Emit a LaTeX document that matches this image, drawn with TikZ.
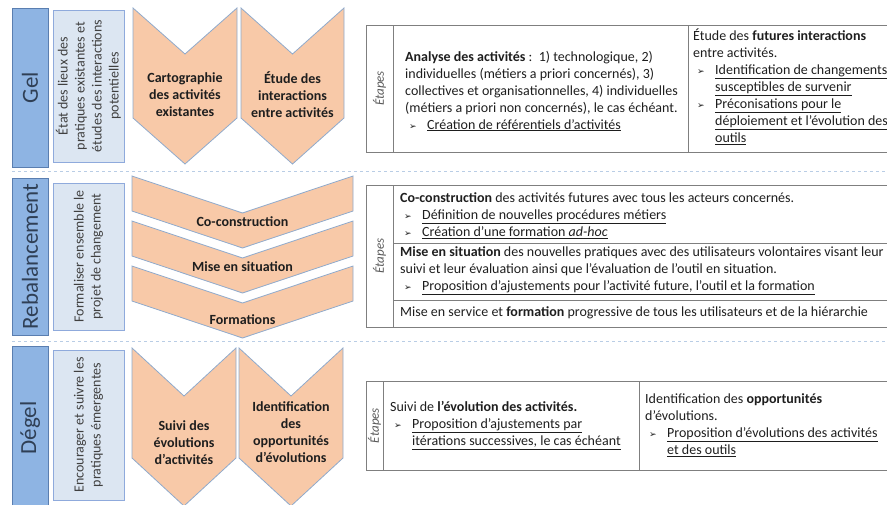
\documentclass[tikz,border=0pt]{standalone}
\usepackage{fontspec}
\setmainfont{Carlito}
\newfontfamily\symbfont{DejaVu Sans}
\usetikzlibrary{calc}

\definecolor{phasefill}{HTML}{8EB4E3}
\definecolor{phasedraw}{HTML}{5A7EB0}
\definecolor{phasetext}{HTML}{2F3F55}
\definecolor{butfill}{HTML}{DCE6F2}
\definecolor{butdraw}{HTML}{8FAADC}
\definecolor{chevfill}{HTML}{F8C9A8}
\definecolor{chevdraw}{HTML}{8FAACC}
\definecolor{texte}{HTML}{1E1E1E}
\definecolor{grille}{HTML}{7F7F7F}
\definecolor{sep}{HTML}{B9CDE5}

\newcommand\puce{\makebox[22pt][l]{\hspace{4pt}{\symbfont\fontsize{9}{9}\selectfont ➢}}}
\newcommand\suite{\hspace*{22pt}}
\newcommand\souligne[1]{\underline{#1}}
\newcommand\chevron[5]{\draw[chev] (#1,#3) -- ({(#1+#2)/2},{#3+#4}) -- (#2,#3) -- (#2,{#3+#5}) -- ({(#1+#2)/2},{#3+#4+#5}) -- (#1,{#3+#5}) -- cycle;}

\tikzset{
  phase/.style={draw=phasedraw, fill=phasefill, line width=1pt},
  but/.style={draw=butdraw, fill=butfill, line width=0.7pt},
  chev/.style={draw=chevdraw, fill=chevfill, line width=0.8pt},
  grille/.style={draw=grille, line width=0.8pt},
  sep/.style={draw=sep, dashed, line width=0.8pt},
  titre/.style={rotate=90, font=\fontsize{23}{26}\selectfont, text=phasetext},
  objectif/.style={rotate=90, align=center, font=\fontsize{14}{17}\selectfont, text=black!75},
  etape/.style={align=center, font=\bfseries\fontsize{14}{17}\selectfont, text=texte},
  etapes/.style={rotate=90, font=\itshape\fontsize{13}{15}\selectfont, text=black!65},
  cellule/.style={align=left, font=\fontsize{14}{17}\selectfont, text=texte, inner sep=0pt},
}

\begin{document}
\begin{tikzpicture}[x=1pt,y=-1pt]
\useasboundingbox (0,0) rectangle (887,504);
\clip (0,0) rectangle (887,504);

\draw[sep] (12,171) -- (887,171);
\draw[sep] (12,341) -- (887,341);

\draw[phase] (12,8) rectangle (48,167);
\node[titre] (gel) at (30,87.5) {Gel};
\draw[but] (53,10) rectangle (124,162);
\node[objectif] (etatlieux) at (88.5,86) {État des lieux des\\pratiques existantes et\\études des interactions\\potentielles};
\chevron{133}{237}{8}{46}{110}
\chevron{241}{344}{8}{46}{110}
\node[etape] (carto) at (185,95) {Cartographie\\des activités\\existantes};
\node[etape] (etude) at (292.5,95) {Étude des\\interactions\\entre activités};

\draw[grille] (366,25) rectangle (900,152);
\draw[grille] (393,25) -- (393,152);
\draw[grille] (688,25) -- (688,152);
\node[etapes] (etapesgel) at (379.5,88.5) {Étapes};
\node[cellule, anchor=west] (analyse) at (405,91) {\textbf{Analyse des activités} :\ \ 1) technologique, 2)\\individuelles (métiers a priori concernés), 3)\\collectives et organisationnelles, 4) individuelles\\(métiers a priori non concernés), le cas échéant.\\\puce\souligne{Création de référentiels d’activités}};
\node[cellule, anchor=north west] (futures) at (693,29) {Étude des \textbf{futures interactions}\\entre activités.\\\puce\souligne{Identification de changements}\\\suite\souligne{susceptibles de survenir}\\\puce\souligne{Préconisations pour le}\\\suite\souligne{déploiement et l’évolution des}\\\suite\souligne{outils}};

\draw[phase] (12,178) rectangle (48,335);
\node[titre] (rebal) at (30,256.5) {Rebalancement};
\draw[but] (53,183) rectangle (124,330);
\node[objectif] (formaliser) at (88.5,256.5) {Formaliser ensemble le\\projet de changement};
\chevron{132}{353}{176}{37}{35}
\chevron{132}{353}{221}{37}{35}
\chevron{132}{353}{266}{37}{35}
\node[etape] (coconst) at (242.5,222) {Co-construction};
\node[etape] (misesit) at (242.5,267) {Mise en situation};
\node[etape] (forma) at (242.5,320) {Formations};

\draw[grille] (366,185) rectangle (900,327);
\draw[grille] (393,185) -- (393,327);
\draw[grille] (393,243) -- (900,243);
\draw[grille] (393,300) -- (900,300);
\node[etapes] (etapesrebal) at (379.5,256) {Étapes};
\node[cellule, anchor=west] (ligne1) at (400,216) {\textbf{Co-construction} des activités futures avec tous les acteurs concernés.\\\puce\souligne{Définition de nouvelles procédures métiers}\\\puce\souligne{Création d’une formation \textit{ad-hoc}}};
\node[cellule, anchor=west] (ligne2) at (400,271) {\textbf{Mise en situation} des nouvelles pratiques avec des utilisateurs volontaires visant leur\\suivi et leur évaluation ainsi que l’évaluation de l’outil en situation.\\\puce\souligne{Proposition d’ajustements pour l’activité future, l’outil et la formation}};
\node[cellule, anchor=west] (ligne3) at (400,313) {Mise en service et \textbf{formation} progressive de tous les utilisateurs et de la hiérarchie};

\draw[phase] (12,346) rectangle (48,520);
\node[titre] (degel) at (30,428) {Dégel};
\draw[but] (53,350) rectangle (124,500);
\node[objectif] (encourager) at (88.5,425) {Encourager et suivre les\\pratiques émergentes};
\chevron{132}{236}{348}{48}{110}
\chevron{239}{343}{348}{48}{110}
\node[etape] (suivi) at (184,443) {Suivi des\\évolutions\\d’activités};
\node[etape] (opport) at (291,432) {Identification\\des\\opportunités\\d’évolutions};

\draw[grille] (366,381) rectangle (900,470);
\draw[grille] (383,381) -- (383,470);
\draw[grille] (639,381) -- (639,470);
\node[etapes] (etapesdegel) at (374.5,425.5) {Étapes};
\node[cellule, anchor=west] (suivicell) at (390,425.5) {Suivi de \textbf{l’évolution des activités.}\\\puce\souligne{Proposition d’ajustements par}\\\suite\souligne{itérations successives, le cas échéant}};
\node[cellule, anchor=west] (opportcell) at (645,425.5) {Identification des \textbf{opportunités}\\d’évolutions.\\\puce\souligne{Proposition d’évolutions des activités}\\\suite\souligne{et des outils}};
\end{tikzpicture}
\end{document}
